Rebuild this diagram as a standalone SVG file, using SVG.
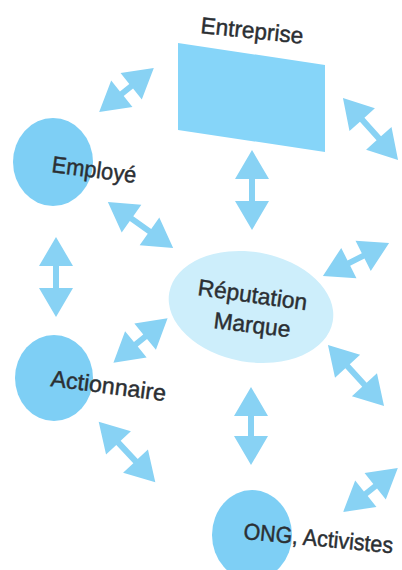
<svg xmlns="http://www.w3.org/2000/svg" xmlns:xlink="http://www.w3.org/1999/xlink" width="402" height="570" viewBox="0 0 402 570">
<style>
.lbl{font-family:"Liberation Sans","Noto Sans",Arial,sans-serif;font-size:23px;fill:#2b2f33;stroke:#2b2f33;stroke-width:0.45px}
.arr{fill:#88d2f4}
.circ{fill:#7ecff5}
</style>
<defs>
<path id="a35" d="M -35 0 L -6 -17 L -6 -3 L 6 -3 L 6 -17 L 35 0 L 6 17 L 6 3 L -6 3 L -6 17 Z"/>
<path id="a37" d="M -37 0 L -8 -17 L -8 -3 L 8 -3 L 8 -17 L 37 0 L 8 17 L 8 3 L -8 3 L -8 17 Z"/>
<path id="a39" d="M -39 0 L -10 -17 L -10 -3 L 10 -3 L 10 -17 L 39 0 L 10 17 L 10 3 L -10 3 L -10 17 Z"/>
<path id="a40" d="M -40 0 L -11 -17 L -11 -3 L 11 -3 L 11 -17 L 40 0 L 11 17 L 11 3 L -11 3 L -11 17 Z"/>
<path id="a41" d="M -41.5 0 L -12.5 -17 L -12.5 -3 L 12.5 -3 L 12.5 -17 L 41.5 0 L 12.5 17 L 12.5 3 L -12.5 3 L -12.5 17 Z"/>
</defs>
<rect width="402" height="570" fill="#ffffff"/>
<g id="connectors" class="arr">
<use xlink:href="#a35" transform="translate(126.5,90) rotate(-38.7)"/>
<use xlink:href="#a41" transform="translate(370.5,129) rotate(48.4)"/>
<use xlink:href="#a40" transform="translate(252,190) rotate(90)"/>
<use xlink:href="#a40" transform="translate(140.5,225) rotate(35.3)"/>
<use xlink:href="#a37" transform="translate(356,259.5) rotate(-26.6)"/>
<use xlink:href="#a40" transform="translate(56,277) rotate(90)"/>
<use xlink:href="#a35" transform="translate(140.5,340.5) rotate(-39.3)"/>
<use xlink:href="#a41" transform="translate(356,375.5) rotate(47.5)"/>
<use xlink:href="#a39" transform="translate(251,426) rotate(90)"/>
<use xlink:href="#a41" transform="translate(127,452) rotate(47)"/>
<use xlink:href="#a35" transform="translate(370.5,490) rotate(-38.7)"/>
</g>
<g id="entreprise">
<polygon points="178,43 325,65 325,152 178,130" fill="#86d5f9"/>
<text class="lbl" x="200" y="33" textLength="103" lengthAdjust="spacingAndGlyphs" transform="rotate(6 200 33)">Entreprise</text>
</g>
<g id="employe">
<ellipse class="circ" cx="53" cy="162" rx="40" ry="44"/>
<text class="lbl" x="51" y="172" textLength="85" lengthAdjust="spacingAndGlyphs" transform="rotate(7.5 51 172)">Employé</text>
</g>
<g id="reputation">
<ellipse cx="251" cy="307" rx="83" ry="55" fill="#cdeefb" transform="rotate(10 251 307)"/>
<text class="lbl" x="197" y="295" textLength="110" lengthAdjust="spacingAndGlyphs" transform="rotate(8 197 295)">Réputation</text>
<text class="lbl" x="213" y="328" textLength="77" lengthAdjust="spacingAndGlyphs" transform="rotate(7 213 328)">Marque</text>
</g>
<g id="actionnaire">
<ellipse class="circ" cx="54" cy="378" rx="39" ry="43"/>
<text class="lbl" x="50" y="386" textLength="116" lengthAdjust="spacingAndGlyphs" transform="rotate(7.5 50 386)">Actionnaire</text>
</g>
<g id="ong">
<ellipse class="circ" cx="252" cy="535" rx="40" ry="45"/>
<text class="lbl" x="243" y="539" textLength="150" lengthAdjust="spacingAndGlyphs" transform="rotate(5.5 243 539)">ONG, Activistes</text>
</g>
</svg>
